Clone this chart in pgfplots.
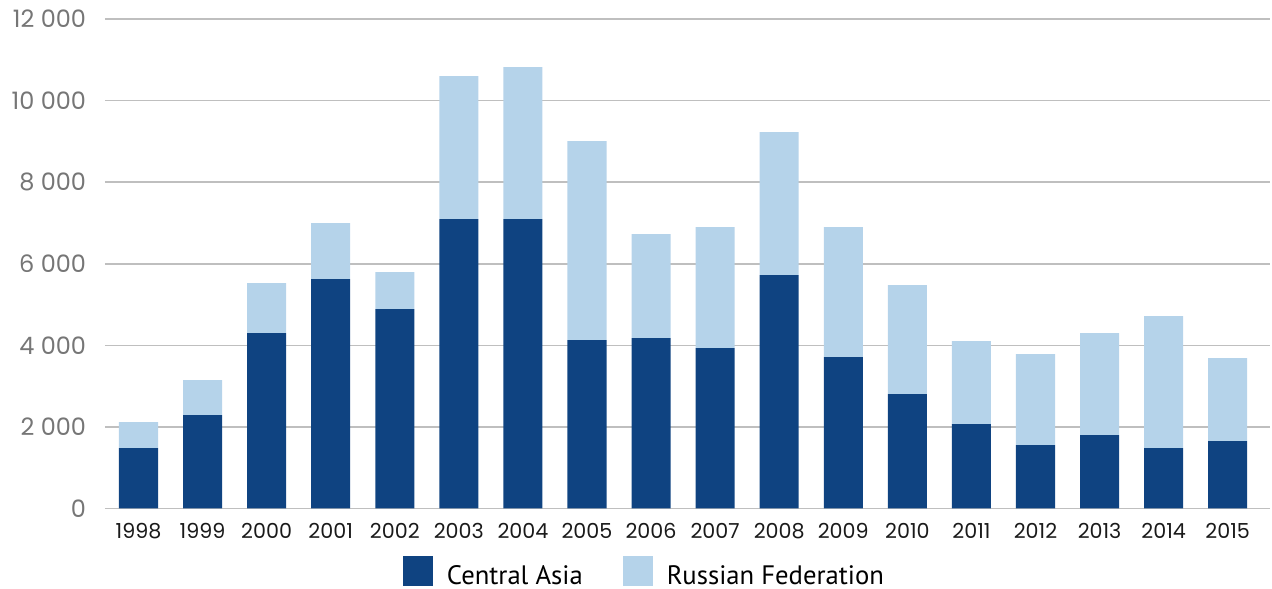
\documentclass[border=0pt]{standalone}
\usepackage{fontspec}
\setmainfont{PT Sans}
\newfontfamily\tickfont{Poppins}
\usepackage{pgfplots}
\pgfplotsset{compat=1.18}
\definecolor{darkb}{HTML}{0F4381}
\definecolor{lightb}{HTML}{B5D3EA}
\definecolor{gridc}{HTML}{BFBFBF}
\definecolor{ytc}{HTML}{767676}
\definecolor{xtc}{HTML}{1A1A1A}
\begin{document}
\begin{tikzpicture}
\path[use as bounding box] (0,0) rectangle (954pt,441.75pt);
\begin{axis}[
  at={(78.75pt,60.375pt)}, anchor=south west,
  scale only axis, width=873.75pt, height=367.125pt,
  ybar stacked, bar width=0.609,
  xmin=-0.523, xmax=17.66, ymin=0, ymax=12000,
  scaled y ticks=false,
  xtick={0,...,17},
  xticklabels={1998,1999,2000,2001,2002,2003,2004,2005,2006,2007,2008,2009,2010,2011,2012,2013,2014,2015},
  ytick={0,2000,4000,6000,8000,10000,12000},
  yticklabels={0,2 000,4 000,6 000,8 000,10 000,12 000},
  axis line style={draw=none},
  tick style={draw=none},
  ymajorgrids, grid style={gridc, line width=1.2pt},
  yticklabel style={font=\tickfont\fontsize{18}{18}\selectfont, text=ytc, anchor=east, inner sep=0pt, xshift=-14pt},
  xticklabel style={font=\tickfont\fontsize{15.5}{15.5}\selectfont, text=xtc, anchor=north, inner sep=0pt, yshift=-10.6pt},
  legend style={at={(0.4622,-0.128)}, anchor=center, draw=none, fill=none,
    legend columns=2, font=\fontsize{20}{24}\selectfont,
    nodes={inner sep=0pt},
    /tikz/every odd column/.append style={column sep=10.5pt},
    /tikz/every even column/.append style={column sep=30pt}},
  legend image code/.code={\fill[#1] (0pt,-7.25pt) rectangle (22.5pt,15.25pt);},
]
\addplot[fill=darkb, draw=none] coordinates {
(0,1483) (1,2292) (2,4301) (3,5625) (4,4890) (5,7096) (6,7096) (7,4130) (8,4179)
(9,3934) (10,5723) (11,3713) (12,2806) (13,2071) (14,1556) (15,1801) (16,1483) (17,1654)};
\addlegendentry{Central Asia}
\addplot[fill=lightb, draw=none] coordinates {
(0,637) (1,858) (2,1226) (3,1373) (4,907) (5,3504) (6,3725) (7,4877) (8,2549)
(9,2966) (10,3505) (11,3187) (12,2672) (13,2034) (14,2231) (15,2500) (16,3235) (17,2035)};
\addlegendentry{Russian Federation}
\end{axis}
\end{tikzpicture}
\end{document}
